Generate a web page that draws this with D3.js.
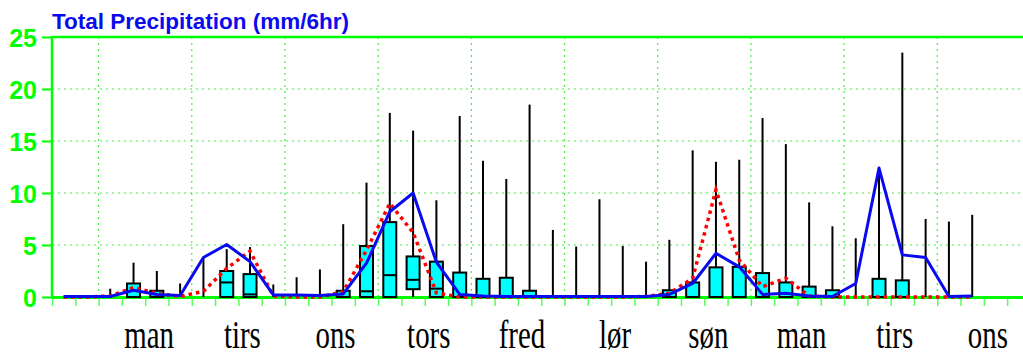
<!DOCTYPE html>
<html>
<head>
<meta charset="utf-8">
<script src="https://cdn.jsdelivr.net/npm/d3@7"></script>
<style>
  html, body { margin: 0; padding: 0; background: #fff; }
  svg { display: block; }
</style>
</head>
<body>
<svg id="chart" width="1023" height="356"></svg>
<script>
// ---- data (6-hourly steps, 40 points) ----
const dayLabels = ["man", "tirs", "ons", "tors", "fred", "lør", "søn", "man", "tirs", "ons"];
const yTicks = [0, 5, 10, 15, 20, 25];

// whisker maximum
const maxVals = [0, 0, 0.8, 3.3, 2.5, 1.3, 3.8, 4.6, 4.8, 1.2,
                 1.9, 2.65, 7.0, 11.0, 17.7, 16.0, 9.3, 17.4, 13.1, 11.35,
                 18.5, 6.45, 4.85, 9.4, 4.9, 3.4, 5.5, 14.1, 13.0, 13.2,
                 17.2, 14.7, 9.1, 6.8, 5.65, 12.4, 23.5, 7.5, 7.25, 7.9];
// upper quartile (box top)
const q3Vals = [0, 0, 0, 1.3, 0.6, 0, 0, 2.5, 2.2, 0,
                0, 0, 0.6, 4.9, 7.2, 3.9, 3.4, 2.35, 1.75, 1.85,
                0.6, 0, 0, 0, 0, 0, 0.65, 1.4, 2.85, 2.9,
                2.3, 1.4, 1.0, 0.65, 0, 1.75, 1.6, 0, 0, 0];
// median
const medVals = [0, 0, 0, 0, 0, 0, 0, 1.4, 0.25, 0,
                 0, 0, 0, 0.55, 2.1, 1.65, 0.8, 0, 0, 0,
                 0, 0, 0, 0, 0, 0, 0, 0, 0, 0,
                 0, 0, 0, 0, 0, 0, 0, 0, 0, 0];
// lower quartile (box bottom)
const q1Vals = [0, 0, 0, 0, 0, 0, 0, 0, 0, 0,
                0, 0, 0, 0, 0, 0.75, 0, 0, 0, 0,
                0, 0, 0, 0, 0, 0, 0, 0, 0, 0,
                0, 0, 0, 0, 0, 0, 0, 0, 0, 0];
// red dotted series
const redVals = [0, 0, 0.1, 0.9, 0.35, 0.05, 0.55, 2.75, 4.4, 0.1,
                 0, 0, 0.5, 4.5, 9.0, 6.2, 0.4, 0, 0, 0,
                 0, 0, 0, 0, 0, 0.05, 0.35, 1.8, 10.3, 3.55,
                 1.0, 1.8, 0.1, 0, 0, 0, 0, 0, 0, 0];
// blue solid series
const blueVals = [0.05, 0.05, 0.05, 0.65, 0.25, 0.15, 3.8, 5.05, 3.4, 0.2,
                  0.2, 0.15, 0.3, 3.25, 8.2, 10.0, 3.35, 0.25, 0.1, 0.05,
                  0.05, 0.05, 0.05, 0.05, 0.05, 0.05, 0.25, 1.3, 4.2, 2.9,
                  0.25, 0.35, 0.1, 0.05, 1.3, 12.4, 4.05, 3.8, 0.05, 0.1];

// ---- layout ----
const svg = d3.select("#chart");
const mLeft = 52, mRight = 1023, mTop = 37, mBottom = 297;
const GREEN = "#00ff00";

const x = d3.scaleLinear().domain([0, 41.68]).range([mLeft, mRight]);
const y = d3.scaleLinear().domain([0, 25]).range([mBottom, mTop]);

// gridlines
const grid = svg.append("g");
grid.selectAll("line.h").data(yTicks.filter(v => v > 0 && v < 25)).join("line")
  .attr("x1", mLeft).attr("x2", mRight)
  .attr("y1", d => y(d)).attr("y2", d => y(d))
  .attr("stroke", "#44ee44").attr("stroke-width", 1.2).attr("stroke-dasharray", "2,4");
grid.selectAll("line.v").data(d3.range(2, 42, 4)).join("line")
  .attr("x1", d => x(d)).attr("x2", d => x(d))
  .attr("y1", mTop).attr("y2", mBottom)
  .attr("stroke", "#44ee44").attr("stroke-width", 1.2).attr("stroke-dasharray", "2,4");

// axes
const xAxis = svg.append("g").attr("transform", `translate(0,${mBottom})`)
  .call(d3.axisBottom(x).tickValues(d3.range(0, 42)).tickSize(9).tickFormat(""));
xAxis.select(".domain").remove();
xAxis.selectAll("line").attr("stroke", "#55ff55").attr("stroke-width", 1.5);

const yAxis = svg.append("g").attr("transform", `translate(${mLeft},0)`)
  .call(d3.axisLeft(y).tickValues(yTicks).tickSize(10).tickPadding(5));
yAxis.select(".domain").remove();
yAxis.selectAll("line").attr("stroke", GREEN).attr("stroke-width", 2);
yAxis.selectAll("text")
  .attr("fill", GREEN)
  .style("font-family", "'Liberation Sans', Arial, sans-serif")
  .style("font-weight", "bold")
  .style("font-size", "25px")
  .attr("dy", "0.36em");

// frame lines
svg.append("line").attr("x1", mLeft).attr("x2", mRight).attr("y1", mTop).attr("y2", mTop)
  .attr("stroke", GREEN).attr("stroke-width", 2.5);
svg.append("line").attr("x1", mLeft).attr("x2", mLeft).attr("y1", mTop - 1).attr("y2", mBottom + 1)
  .attr("stroke", GREEN).attr("stroke-width", 2.5);
svg.append("line").attr("x1", mLeft).attr("x2", mRight).attr("y1", mBottom + 0.5).attr("y2", mBottom + 0.5)
  .attr("stroke", GREEN).attr("stroke-width", 3);

// data marks
const idx = d3.range(maxVals.length);
const px = i => x(i + 0.5);
const boxW = 13;
const marks = svg.append("g");

marks.selectAll("line.whisker").data(idx.filter(i => maxVals[i] > 0)).join("line")
  .attr("x1", px).attr("x2", px)
  .attr("y1", i => y(q1Vals[i] > 0 ? 0 : q3Vals[i])).attr("y2", i => y(maxVals[i]))
  .attr("stroke", "#000").attr("stroke-width", 2);

marks.selectAll("rect.box").data(idx.filter(i => q3Vals[i] > 0)).join("rect")
  .attr("x", i => px(i) - boxW / 2).attr("width", boxW)
  .attr("y", i => y(q3Vals[i])).attr("height", i => y(q1Vals[i]) - y(q3Vals[i]))
  .attr("fill", "#00ffff").attr("stroke", "#000").attr("stroke-width", 2);

marks.selectAll("line.median").data(idx.filter(i => medVals[i] > 0)).join("line")
  .attr("x1", i => px(i) - boxW / 2).attr("x2", i => px(i) + boxW / 2)
  .attr("y1", i => y(medVals[i])).attr("y2", i => y(medVals[i]))
  .attr("stroke", "#000").attr("stroke-width", 2);

const lineGen = vals => d3.line().x((d, i) => px(i)).y(d => y(d))(vals);

marks.append("path").attr("d", lineGen(redVals))
  .attr("fill", "none").attr("stroke", "#ff0000").attr("stroke-width", 3.5)
  .attr("stroke-dasharray", "3.5,4");

marks.append("path").attr("d", lineGen(blueVals))
  .attr("fill", "none").attr("stroke", "#0a0aee").attr("stroke-width", 3)
  .attr("stroke-linejoin", "round");

// title
svg.append("text").attr("x", mLeft).attr("y", 29)
  .attr("fill", "#0a0aee")
  .style("font-family", "'Liberation Sans', Arial, sans-serif")
  .style("font-weight", "bold").style("font-size", "22.5px")
  .text("Total Precipitation (mm/6hr)");

// day labels
svg.append("g").selectAll("text").data(dayLabels).join("text")
  .attr("transform", (d, k) => `translate(${x(4 + 4 * k) + 4},348) scale(0.74,1)`)
  .attr("text-anchor", "middle")
  .attr("fill", "#000")
  .style("font-family", "'Liberation Serif', 'Times New Roman', serif")
  .style("font-size", "39px")
  .text(d => d);
</script>
</body>
</html>
